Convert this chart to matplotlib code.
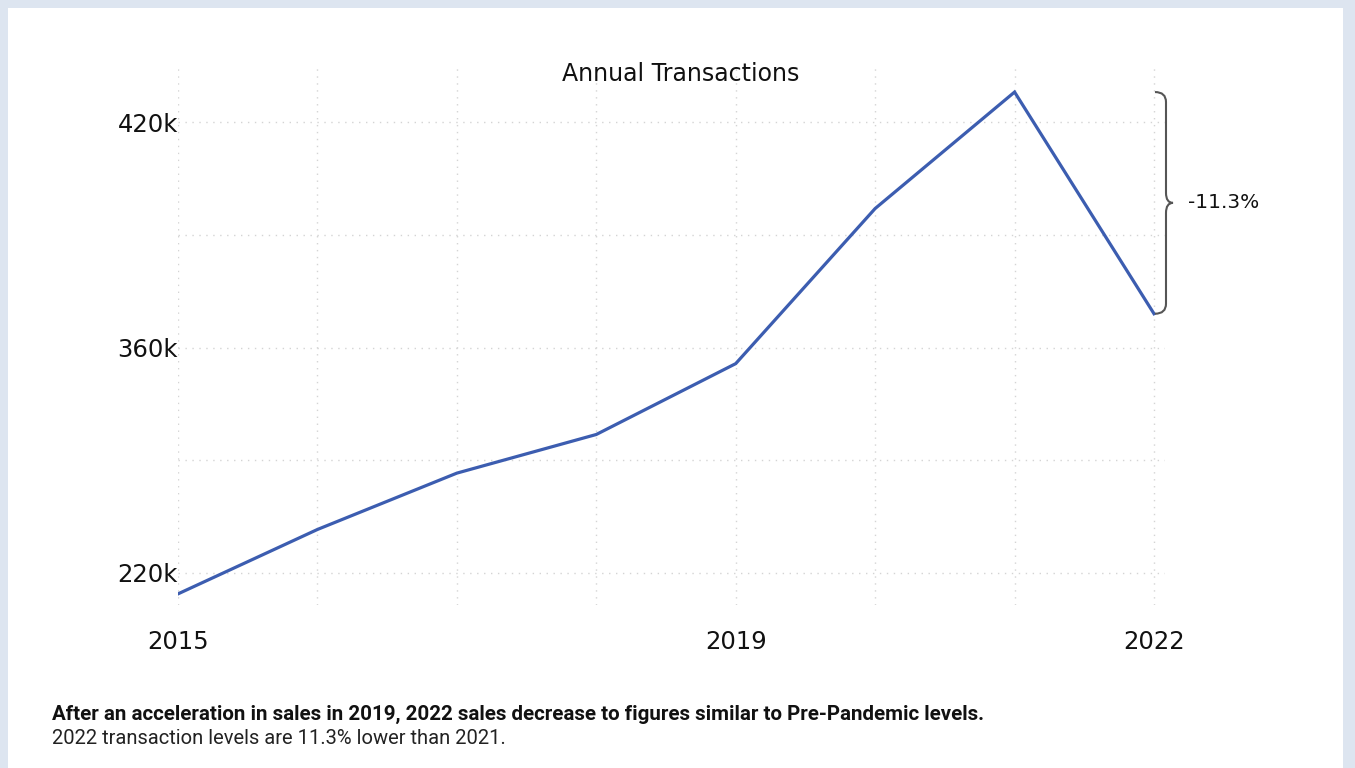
import numpy as np
import matplotlib.pyplot as plt
from matplotlib.path import Path
from matplotlib.patches import PathPatch, Rectangle
from matplotlib.transforms import IdentityTransform

# values (thousands of transactions)
years = [2015, 2016, 2017, 2018, 2019, 2020, 2021, 2022]
transactions = [207, 247, 282, 306, 350, 397, 428, 369]
tick_values = [220, 290, 360, 390, 420]
tick_labels = ['220k', '', '360k', '', '420k']
year_labels = ['2015', '', '', '', '2019', '', '', '2022']
change_label = '-11.3%'

W, H = 1355, 768


# the original axis is piecewise: 220k-360k and 360k-420k each take two grid steps
def forward(v):
    v = np.asarray(v, dtype=float)
    return np.where(v < 360, (v - 220) / 70.0, 2 + (v - 360) / 30.0)


def inverse(u):
    u = np.asarray(u, dtype=float)
    return np.where(u < 2, 220 + u * 70.0, 360 + (u - 2) * 30.0)


fig = plt.figure(figsize=(W / 100, H / 100), dpi=100)
fig.patch.set_facecolor('#dde5f0')
fig.add_artist(Rectangle((8 / W, 0), (W - 20) / W, (H - 8) / H,
                         transform=fig.transFigure, facecolor='white',
                         edgecolor='none', zorder=0))

ax = fig.add_axes([178 / W, 1 - 605 / H, (1165 - 178) / W, (605 - 65) / H])
ax.set_facecolor('none')
ax.set_yscale('function', functions=(forward, inverse))

ax.plot(years, transactions, color='#3c5db0', linewidth=2.3, solid_joinstyle='miter', zorder=3)

ax.set_xlim(2015, 2022 + 11 / 139.4)
ax.set_ylim(200.1, 435.2)
ax.set_xticks(years)
ax.set_xticklabels(year_labels)
ax.set_yticks(tick_values)
ax.set_yticklabels(tick_labels)
ax.grid(True, color='#d4d4d4', linestyle=(0, (1, 4)), linewidth=1)
ax.tick_params(length=0, labelsize=17.5, colors='#111111')
ax.tick_params(axis='x', pad=18)
ax.tick_params(axis='y', pad=0)
for lab in ax.get_xticklabels() + ax.get_yticklabels():
    lab.set_fontfamily('DejaVu Sans')
for s in ax.spines.values():
    s.set_visible(False)

fig.text(681 / W, 1 - 74 / H, 'Annual Transactions', fontsize=17, family='DejaVu Sans',
         color='#111111', ha='center', va='center')

# curly brace between the 2021 peak and 2022
fig.canvas.draw()
top = ax.transData.transform((2022, transactions[6]))[1]
bot = ax.transData.transform((2022, transactions[7]))[1]
x0 = ax.transData.transform((2022, 0))[0] + 1
xs = x0 + 11
xt = xs + 7
mid = (top + bot) / 2
r = 10
verts = [(x0, top), (xs, top), (xs, top - r), (xs, top - r),
         (xs, mid + r), (xs, mid), (xt, mid),
         (xs, mid), (xs, mid - r), (xs, mid - r),
         (xs, bot + r), (xs, bot), (x0, bot)]
codes = [Path.MOVETO, Path.CURVE3, Path.CURVE3, Path.LINETO,
         Path.LINETO, Path.CURVE3, Path.CURVE3,
         Path.CURVE3, Path.CURVE3, Path.LINETO,
         Path.LINETO, Path.CURVE3, Path.CURVE3]
fig.add_artist(PathPatch(Path(verts, codes), transform=IdentityTransform(),
                         facecolor='none', edgecolor='#555555', linewidth=1.5))
fig.text(1188 / W, mid / H, change_label, fontsize=14.5, va='center',
         ha='left', family='DejaVu Sans', color='#111111')

fig.text(52 / W, 1 - 714 / H,
         'After an acceleration in sales in 2019, 2022 sales decrease to figures similar to Pre-Pandemic levels.',
         fontsize=14.8, fontweight='bold', family='Roboto', va='center', color='#111111')
fig.text(52 / W, 1 - 739 / H, '2022 transaction levels are 11.3% lower than 2021.',
         fontsize=14.5, family='Roboto', va='center', color='#222222')

fig.savefig('out.png', dpi=100, facecolor=fig.get_facecolor())
